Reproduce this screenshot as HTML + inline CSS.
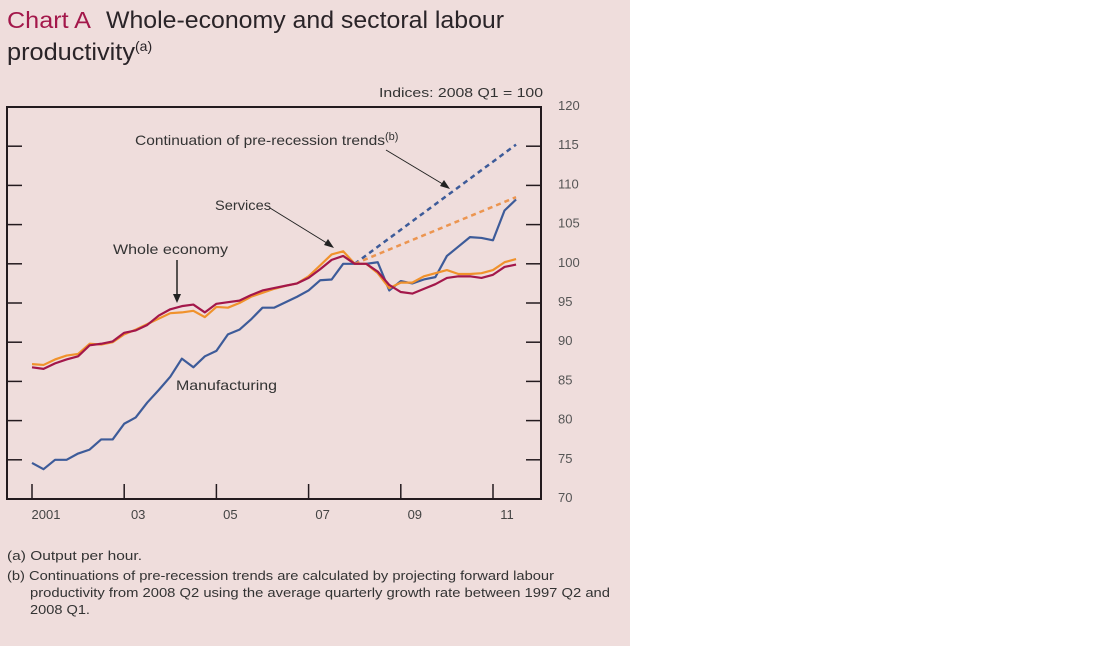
<!DOCTYPE html>
<html><head><meta charset="utf-8"><style>
body{margin:0;background:#fff;width:1098px;height:646px;overflow:hidden;font-family:"Liberation Sans",sans-serif}
#panel{position:absolute;left:0;top:0;width:630px;height:646px;background:#efdddc}
</style></head><body>
<div id="panel">
<svg width="630" height="646">
<text x="7" y="28" font-size="23" fill="#a3174a" textLength="84" lengthAdjust="spacingAndGlyphs">Chart A</text>
<text x="106" y="28" font-size="24" fill="#2a2428" textLength="398" lengthAdjust="spacingAndGlyphs">Whole-economy and sectoral labour</text>
<text x="7" y="60" font-size="24" fill="#2a2428"><tspan textLength="128" lengthAdjust="spacingAndGlyphs">productivity</tspan><tspan font-size="14" dy="-9">(a)</tspan></text>
<text x="379" y="97" font-size="13" fill="#333" textLength="164" lengthAdjust="spacingAndGlyphs">Indices:  2008 Q1 = 100</text>
<g id="axes"></g>
<g id="series"></g>
<g font-size="14" fill="#333">
<text x="135" y="145"><tspan textLength="250" lengthAdjust="spacingAndGlyphs">Continuation of pre-recession trends</tspan><tspan font-size="11" dy="-5">(b)</tspan></text>
<line x1="386" y1="150" x2="446" y2="186" stroke="#222" stroke-width="1"/>
<polygon points="450,189 440,186 444,180" fill="#222"/>
<text x="215" y="210" textLength="56" lengthAdjust="spacingAndGlyphs">Services</text>
<line x1="270" y1="208" x2="330" y2="245" stroke="#222" stroke-width="1"/>
<polygon points="334,248 324,245 328,239" fill="#222"/>
<text x="113" y="254" textLength="115" lengthAdjust="spacingAndGlyphs">Whole economy</text>
<line x1="177" y1="260" x2="177" y2="296" stroke="#222" stroke-width="1.5"/>
<polygon points="173,294 181,294 177,303" fill="#222"/>
<text x="176" y="390" textLength="101" lengthAdjust="spacingAndGlyphs">Manufacturing</text>
</g>
<g font-size="13" fill="#333">
<text x="7" y="560" textLength="135" lengthAdjust="spacingAndGlyphs">(a)  Output per hour.</text>
<text x="7" y="580" textLength="547" lengthAdjust="spacingAndGlyphs">(b)  Continuations of pre-recession trends are calculated by projecting forward labour</text>
<text x="30" y="597" textLength="580" lengthAdjust="spacingAndGlyphs">productivity from 2008 Q2 using the average quarterly growth rate between 1997 Q2 and</text>
<text x="30" y="614" textLength="60" lengthAdjust="spacingAndGlyphs">2008 Q1.</text>
</g>
</svg></div>
<script>
const yTicks=[70,75,80,85,90,95,100,105,110,115,120];
const xTickLabels=["2001","03","05","07","09","11"];
const xTickYears=[2001,2003,2005,2007,2009,2011];
const wholeEconomy=[86.8,86.6,87.3,87.8,88.2,89.6,89.8,90.1,91.2,91.5,92.2,93.4,94.2,94.6,94.8,93.8,94.9,95.1,95.3,96.0,96.6,96.9,97.2,97.5,98.2,99.3,100.5,101.0,100,100,99.0,97.3,96.4,96.2,96.8,97.4,98.2,98.4,98.4,98.2,98.6,99.6,99.9];
const services=[87.2,87.1,87.8,88.3,88.5,89.8,89.7,90.0,91.0,91.6,92.3,93.0,93.7,93.8,94.0,93.2,94.5,94.4,95.0,95.8,96.3,96.8,97.2,97.5,98.4,99.8,101.2,101.6,100,100,98.8,96.9,97.6,97.6,98.4,98.8,99.2,98.7,98.7,98.8,99.2,100.2,100.6];
const manufacturing=[74.6,73.8,75.0,75.0,75.8,76.3,77.6,77.6,79.6,80.4,82.3,83.9,85.6,87.9,86.8,88.2,88.9,91.0,91.6,92.9,94.4,94.4,95.1,95.8,96.6,97.9,98.0,100.0,100,100,100.2,96.6,97.8,97.5,98.0,98.3,101.0,102.2,103.4,103.3,103.0,106.8,108.2];
const trendStartQ=28; const trendEndQ=42;
const servicesTrend=[100,108.5];
const manufacturingTrend=[100,115.2];
const NS="http://www.w3.org/2000/svg";
const L=7,R=541,T=107,B=499;
const yS=v=>B-(v-70)*(B-T)/50;
const xS=q=>32+q*(46.1/4);
const xY=y=>xS((y-2001)*4);
function mk(tag,attrs,parent){const e=document.createElementNS(NS,tag);for(const k in attrs)e.setAttribute(k,attrs[k]);parent.appendChild(e);return e;}
const ax=document.getElementById('axes');
const frame=mk('rect',{x:L,y:T,width:R-L,height:B-T,fill:'none',stroke:'#231a1e','stroke-width':2},ax);


yTicks.forEach(v=>{
 const y=yS(v);
 mk('line',{x1:L,x2:L+15,y1:y,y2:y,stroke:'#231a1e','stroke-width':1.5},ax);
 mk('line',{x1:R-15,x2:R,y1:y,y2:y,stroke:'#231a1e','stroke-width':1.5},ax);
 const t=mk('text',{x:558,y:y+3,'font-size':13,fill:'#555'},ax);
 t.textContent=v;
 
 
});
xTickYears.forEach((yr,i)=>{
 const x=xY(yr);
 mk('line',{x1:x,x2:x,y1:B,y2:B-15,stroke:'#231a1e','stroke-width':1.5},ax);
 const t=mk('text',{x:x+14,y:B+20,'font-size':13,fill:'#444','text-anchor':'middle'},ax);
 t.textContent=xTickLabels[i];
 
 
});
const sg=document.getElementById('series');
function line(data,color,name,w){
 const p=mk('polyline',{points:data.map((v,i)=>xS(i)+','+yS(v)).join(' '),fill:'none',stroke:color,'stroke-width':w,'stroke-linejoin':'round'},sg);
 
 
}
function trend(d,color,name){
 const p=mk('line',{x1:xS(trendStartQ),y1:yS(d[0]),x2:xS(trendEndQ),y2:yS(d[1]),stroke:color,'stroke-width':2.5,'stroke-dasharray':'5,4'},sg);
 
 
}
trend(manufacturingTrend,'#3d5b99','manufacturing-trend-line');
trend(servicesTrend,'#ec9550','services-trend-line');
line(manufacturing,'#3d5b99','manufacturing-line',2.2);
line(services,'#f0922c','services-line',2.2);
line(wholeEconomy,'#a3174a','whole-economy-line',2.2);
</script>
</body></html>
